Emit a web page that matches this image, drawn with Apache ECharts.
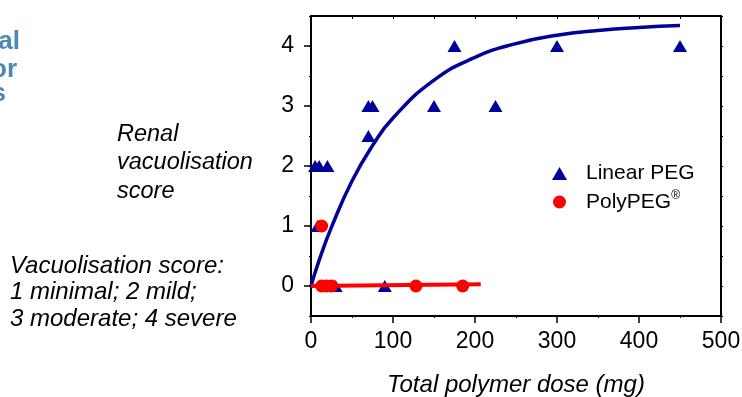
<!DOCTYPE html>
<html lang="en">
  <head>
    <meta charset="UTF-8" />
    <title>Renal vacuolisation</title>
    <style>
      html, body { margin: 0; padding: 0; background: #fff; }
      #main { width: 742px; height: 397px; }
    </style>
  </head>
  <body>
    <div id="main"></div>
    <script src="https://cdn.jsdelivr.net/npm/echarts@6/dist/echarts.min.js"></script>
    <script>
      // data: [dose mg, score]
      const linearPeg = [
        [5, 2], [10, 2], [20, 2], [8, 1], [30, 0], [90, 0],
        [70, 2.5], [70, 3], [75, 3], [150, 3], [225, 3],
        [175, 4], [300, 4], [450, 4]
      ];
      const polyPeg = [
        [13, 1], [13, 0], [19, 0], [25, 0], [128, 0], [185, 0]
      ];
      // fitted curves, points
      const linearFit = [
        [0, 0], [10, 0.43], [25, 0.98], [50, 1.75], [75, 2.34], [100, 2.8],
        [150, 3.43], [200, 3.81], [250, 4.04], [300, 4.18], [350, 4.26],
        [400, 4.31], [450, 4.34]
      ];
      const polyFit = [[0, 0], [207, 0.03]];
      const yTicks = [0, 1, 2, 3, 4];

      const font = "Liberation Sans, Arial, sans-serif";
      const blue = "#00009a";
      const red = "#ff0000";

      const myChart = echarts.init(document.getElementById("main"));

      const frameAxis = { show: true, onZero: false, lineStyle: { color: "#000", width: 2 } };

      const option = {
        animation: false,
        grid: { left: 311, top: 16, width: 410, height: 300, outerBoundsMode: "none", containLabel: false },
        xAxis: [
          {
            type: "value", position: "bottom", min: 0, max: 500, interval: 100,
            axisLine: frameAxis,
            axisTick: { length: 7, lineStyle: { color: "#000", width: 1.5 } },
            minorTick: { show: true, splitNumber: 2, length: 2, lineStyle: { color: "#000" } },
            splitLine: { show: false },
            axisLabel: { color: "#000", fontFamily: font, fontSize: 23, margin: 14 },
            name: "Total polymer dose (mg)",
            nameLocation: "middle",
            nameGap: 57,
            nameTextStyle: { color: "#000", fontFamily: font, fontSize: 24, fontStyle: "italic" }
          },
          {
            type: "value", position: "top", min: 0, max: 500, interval: 50,
            axisLine: frameAxis,
            axisTick: { inside: true, length: 3, lineStyle: { color: "#000" } },
            splitLine: { show: false },
            axisLabel: { show: false }
          }
        ],
        yAxis: [
          {
            type: "value", position: "left", min: -0.5, max: 4.5, interval: 0.5,
            axisLine: frameAxis,
            axisTick: { length: 2, lineStyle: { color: "#000" } },
            splitLine: { show: false },
            axisLabel: {
              color: "#000", fontFamily: font, fontSize: 23, margin: 17,
              customValues: yTicks
            }
          },
          {
            type: "value", position: "left", min: -0.5, max: 4.5, interval: 0.5,
            axisLine: { show: false, onZero: false },
            axisTick: { length: 7, customValues: yTicks, lineStyle: { color: "#000", width: 1.5 } },
            splitLine: { show: false },
            axisLabel: { show: false }
          },
          {
            type: "value", position: "right", min: -0.5, max: 4.5, interval: 0.5,
            axisLine: frameAxis,
            axisTick: { length: 2, lineStyle: { color: "#000" } },
            splitLine: { show: false },
            axisLabel: { show: false }
          }
        ],
        legend: {
          orient: "vertical",
          left: 547,
          top: 158,
          itemGap: 6,
          itemWidth: 15,
          itemHeight: 13,
          data: [
            { name: "Linear PEG", icon: "triangle" },
            { name: "PolyPEG®", icon: "circle" }
          ],
          formatter: function (name) {
            return "{t|" + name.replace("®", "") + "}" + (name.indexOf("®") >= 0 ? "{s|®}" : "");
          },
          textStyle: {
            rich: {
              t: { color: "#000", fontFamily: font, fontSize: 21, padding: [0, 0, 0, 14] },
              s: { color: "#000", fontFamily: font, fontSize: 12, verticalAlign: "top", padding: [0, 0, 12, 0] }
            }
          }
        },
        graphic: [
          { type: "text", right: 742 - 20, top: 29, style: { text: "al", font: "bold 26px " + font, fill: "#4f88b3" } },
          { type: "text", right: 742 - 17, top: 57, style: { text: "or", font: "bold 26px " + font, fill: "#4f88b3" } },
          { type: "text", right: 742 - 6, top: 81, style: { text: "s", font: "bold 26px " + font, fill: "#4f88b3" } },
          {
            type: "text", left: 117, top: 120,
            style: { text: "Renal\nvacuolisation\nscore", font: "italic 23.5px " + font, fill: "#000", lineHeight: 28.5 }
          },
          {
            type: "text", left: 10, top: 253,
            style: {
              text: "Vacuolisation score:\n1 minimal; 2 mild;\n3 moderate; 4 severe",
              font: "italic 24px " + font, fill: "#000", lineHeight: 26.5
            }
          }
        ],
        series: [
          {
            name: "Linear PEG fit", type: "line", data: linearFit, smooth: true,
            showSymbol: false, silent: true,
            lineStyle: { color: blue, width: 3.5 }, z: 2
          },
          {
            name: "PolyPEG fit", type: "line", data: polyFit,
            showSymbol: false, silent: true,
            lineStyle: { color: red, width: 4 }, z: 4
          },
          {
            name: "Linear PEG", type: "scatter", data: linearPeg, clip: false,
            symbol: "triangle", symbolSize: [14, 12],
            itemStyle: { color: blue, opacity: 1 }, z: 3
          },
          {
            name: "PolyPEG®", type: "scatter", data: polyPeg, clip: false,
            symbol: "circle", symbolSize: 13,
            itemStyle: { color: red, opacity: 1 }, z: 5
          }
        ]
      };

      myChart.setOption(option);
    </script>
  </body>
</html>
